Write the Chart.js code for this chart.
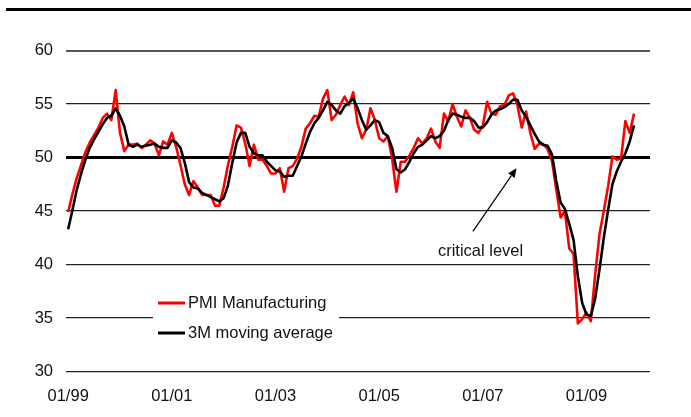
<!DOCTYPE html>
<html>
<head>
<meta charset="utf-8">
<script src="https://cdn.jsdelivr.net/npm/chart.js@4.4.1/dist/chart.umd.min.js"></script>
<style>
  html, body { margin: 0; padding: 0; background: #fff; }
  #wrap { width: 691px; height: 417px; position: relative; }
</style>
</head>
<body>
<div id="wrap"><canvas id="c" width="691" height="417"></canvas></div>
<script>
// Month index 0 = January 1999; axis labels every 24 months
const tickLabels = ['01/99', '01/01', '01/03', '01/05', '01/07', '01/09'];
const tickStep = 24;

// PMI Manufacturing, monthly, Jan 1999 - Dec 2009
const pmi = [
  44.9, 46.6, 48.1, 49.3, 50.5, 51.4, 52.1, 52.8, 53.7, 54.1, 53.5, 56.3,
  52.3, 50.6, 51.2, 51.2, 51.3, 50.9, 51.2, 51.6, 51.3, 50.2, 51.5, 51.2,
  52.3, 51.0, 49.3, 47.5, 46.5, 47.8, 47.2, 46.5, 46.5, 46.5, 45.5, 45.5,
  47.2, 49.3, 51.0, 53.0, 52.8, 51.3, 49.2, 51.2, 49.8, 49.8, 49.2, 48.5,
  48.5, 49.0, 46.8, 49.0, 49.2, 49.9, 51.0, 52.7, 53.2, 53.9, 53.8, 55.5,
  56.3, 53.5, 54.0, 54.9, 55.7, 54.9, 56.1, 53.2, 51.8, 52.6, 54.6, 53.5,
  51.8, 51.5, 52.0, 49.9, 46.8, 49.6, 49.6, 50.2, 50.9, 51.8, 51.3, 51.8,
  52.7, 51.5, 50.9, 54.1, 53.4, 55.0, 53.8, 52.9, 54.4, 53.7, 52.6, 52.3,
  53.0, 55.2, 54.1, 54.0, 54.8, 54.9, 55.8, 56.0, 54.9, 52.8, 54.3, 52.3,
  50.8, 51.3, 51.2, 50.8, 49.7, 47.0, 44.4, 45.0, 41.5, 41.0, 34.5, 34.9,
  35.5, 34.7, 39.0, 42.8, 45.0, 47.3, 50.1, 49.8, 49.9, 53.4, 52.3, 54.1
];

// 3-month moving average
const avg3m = [
  43.3, 45.1, 47.0, 48.5, 49.8, 50.9, 51.7, 52.4, 53.1, 53.7, 53.9, 54.6,
  53.9, 52.9, 51.2, 51.0, 51.2, 51.0, 51.1, 51.2, 51.3, 51.0, 50.9, 50.9,
  51.6, 51.4, 50.9, 49.5, 47.7, 47.2, 47.1, 46.7, 46.5, 46.3, 46.1, 45.9,
  46.2, 47.4, 49.5, 51.4, 52.3, 52.3, 51.0, 50.4, 50.2, 50.2, 49.6, 49.2,
  48.8, 48.7, 48.2, 48.3, 48.3, 49.2, 50.1, 51.3, 52.4, 53.2, 53.7, 54.4,
  55.2, 54.9, 54.4, 54.1, 54.8, 55.1, 55.5, 54.6, 53.5, 52.6, 53.0, 53.5,
  53.3, 52.3, 52.0, 50.9, 48.9, 48.6, 48.9, 49.6, 50.4, 51.0, 51.2, 51.6,
  52.0, 51.8, 52.0, 52.5, 53.5, 54.1, 54.0, 53.8, 53.7, 53.7, 53.4, 52.8,
  52.8, 53.3, 54.0, 54.4, 54.5, 54.7, 55.0, 55.4, 55.4, 54.4, 53.8, 53.0,
  52.2, 51.5, 51.2, 51.1, 50.3, 47.8, 45.8, 45.2, 43.8, 42.3, 38.9, 36.4,
  35.3, 35.2, 36.8, 39.5, 42.5, 45.1, 47.5, 48.7, 49.6, 50.4, 51.5, 53.0
];

const seriesNames = ['PMI Manufacturing', '3M moving average'];
const seriesColors = ['#ff0000', '#000000'];

// Annotation: arrow pointing at the 50 line, in (month, value) units
const criticalText = 'critical level';
const arrowFrom = { x: 93.7, y: 43.1 };
const arrowTo = { x: 103.8, y: 49.0 };
const textAt = { x: 85.6, y: 41.2 };

const FONT = '"Liberation Sans", Arial, sans-serif';
const FONT_SIZE = 16.5;
const toPoints = arr => arr.map((v, i) => ({ x: i, y: v }));

const frame = {
  id: 'frame',
  beforeDraw(chart) {
    const ctx = chart.ctx;
    ctx.save();
    ctx.fillStyle = '#fff';
    ctx.fillRect(0, 0, chart.width, chart.height);
    ctx.fillStyle = '#000';
    ctx.fillRect(6, 8, chart.width - 6, 3);
    ctx.restore();
  }
};

const annotations = {
  id: 'annotations',
  afterDatasetsDraw(chart) {
    const { ctx, scales: { x, y } } = chart;
    ctx.save();
    // arrow
    const x0 = x.getPixelForValue(arrowFrom.x), y0 = y.getPixelForValue(arrowFrom.y);
    const x1 = x.getPixelForValue(arrowTo.x), y1 = y.getPixelForValue(arrowTo.y);
    const ang = Math.atan2(y1 - y0, x1 - x0);
    const head = 9, half = 4;
    const bx = x1 - head * Math.cos(ang), by = y1 - head * Math.sin(ang);
    ctx.strokeStyle = '#000';
    ctx.lineWidth = 1.2;
    ctx.beginPath();
    ctx.moveTo(x0, y0);
    ctx.lineTo(bx, by);
    ctx.stroke();
    ctx.fillStyle = '#000';
    ctx.beginPath();
    ctx.moveTo(x1, y1);
    ctx.lineTo(bx + half * Math.sin(ang), by - half * Math.cos(ang));
    ctx.lineTo(bx - half * Math.sin(ang), by + half * Math.cos(ang));
    ctx.closePath();
    ctx.fill();
    // label
    ctx.font = FONT_SIZE + 'px ' + FONT;
    ctx.textAlign = 'left';
    ctx.textBaseline = 'middle';
    ctx.fillStyle = '#111';
    ctx.fillText(criticalText, x.getPixelForValue(textAt.x), y.getPixelForValue(textAt.y));

    // legend box inside the plot
    ctx.fillStyle = '#fff';
    ctx.fillRect(153, 287, 186, 60);
    chart.data.datasets.forEach((ds, i) => {
      const cy = 303 + i * 30;
      ctx.strokeStyle = ds.borderColor;
      ctx.lineWidth = 3;
      ctx.beginPath();
      ctx.moveTo(158, cy);
      ctx.lineTo(185, cy);
      ctx.stroke();
      ctx.fillStyle = '#111';
      ctx.fillText(ds.label, 188, cy);
    });
    ctx.restore();
  }
};

new Chart(document.getElementById('c'), {
  type: 'line',
  data: {
    datasets: [
      { label: seriesNames[0], data: toPoints(pmi), borderColor: seriesColors[0],
        borderWidth: 2.6, order: 2 },
      { label: seriesNames[1], data: toPoints(avg3m), borderColor: seriesColors[1],
        borderWidth: 2.6, order: 1 }
    ]
  },
  options: {
    responsive: false,
    devicePixelRatio: 1,
    animation: false,
    events: [],
    elements: { point: { radius: 0 }, line: { tension: 0, borderJoinStyle: 'round' } },
    layout: { padding: { top: 50.5, right: 41, left: 0, bottom: 0 } },
    plugins: { legend: { display: false }, tooltip: { enabled: false } },
    scales: {
      x: {
        type: 'linear',
        min: -0.5,
        max: 134.7,
        afterFit(s) { s.height = 417 - 371.5; },
        afterBuildTicks(s) {
          s.ticks = tickLabels.map((_, i) => ({ value: i * tickStep }));
        },
        grid: { display: false, drawTicks: false },
        border: { display: false },
        ticks: {
          autoSkip: false,
          maxRotation: 0,
          padding: 15,
          color: '#111',
          font: { family: FONT, size: FONT_SIZE },
          callback: v => tickLabels[Math.round(v / tickStep)]
        }
      },
      y: {
        min: 30,
        max: 60,
        afterFit(s) { s.width = 66; },
        grid: {
          drawTicks: false,
          color: c => c.tick.value === 50 ? '#000' : (c.tick.value === 60 ? '#555' : '#222'),
          lineWidth: c => c.tick.value === 50 ? 3 : (c.tick.value === 60 ? 2 : 1.3)
        },
        border: { display: false },
        ticks: {
          stepSize: 5,
          padding: 13,
          color: '#111',
          font: { family: FONT, size: FONT_SIZE }
        }
      }
    }
  },
  plugins: [frame, annotations]
});
</script>
</body>
</html>
